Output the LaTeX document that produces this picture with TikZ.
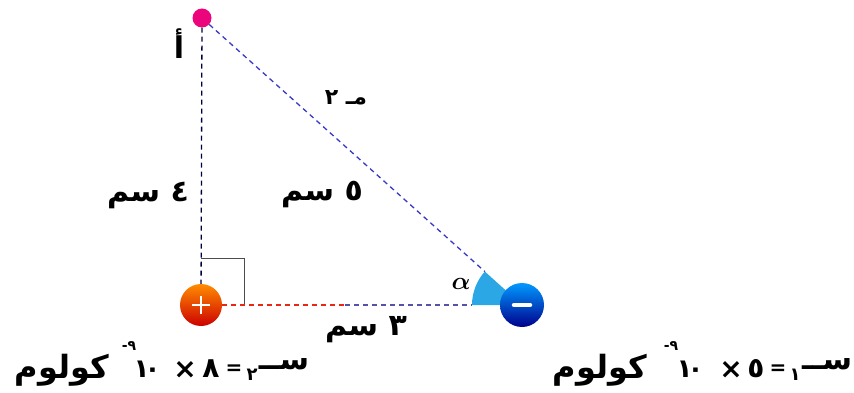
\documentclass[tikz,border=0pt]{standalone}
\usepackage{amsmath}
\usepackage{fontspec}
\newfontfamily\arabicfont[Script=Arabic]{DejaVu Sans}
\TeXXeTstate=1
\usetikzlibrary{calc}
\begin{document}
\begin{tikzpicture}[x=1pt,y=-1pt,
  lbl/.style={font=\arabicfont\bfseries\fontsize{30}{34}\selectfont, inner sep=0pt, text=black},
  lblb/.style={font=\arabicfont\bfseries\fontsize{32}{36}\selectfont, inner sep=0pt, text=black},
  dig/.style={font=\arabicfont\bfseries\fontsize{28}{32}\selectfont, inner sep=0pt, text=black},
  ten/.style={font=\arabicfont\bfseries\fontsize{26}{30}\selectfont, inner sep=0pt, text=black},
  eq/.style={font=\arabicfont\bfseries\fontsize{20}{24}\selectfont, inner sep=0pt, text=black},
  small/.style={font=\arabicfont\bfseries\fontsize{14}{16}\selectfont, inner sep=0pt, text=black},
  sub/.style={font=\arabicfont\bfseries\fontsize{18}{22}\selectfont, inner sep=0pt, text=black},
  sym/.style={font=\arabicfont\bfseries\fontsize{30}{34}\selectfont, inner sep=0pt, text=black},
  dsh/.style={dash pattern=on 5pt off 4pt, line width=1.3pt},
  poscharge/.style={circle, minimum size=42pt, inner sep=0pt, top color=orange!90!yellow, bottom color=red!80!black},
  negcharge/.style={circle, minimum size=44pt, inner sep=0pt, top color=cyan!60!blue, bottom color=blue!55!black},
  ptA/.style={circle, minimum size=19pt, inner sep=0pt, fill=magenta!85!red}
]
\useasboundingbox (0,0) rectangle (854,393);
% angle sector
\coordinate (qn) at (522,305);
\fill[cyan!85!blue!85] (qn) -- ++(180:50) arc (180:222:50) -- cycle;
\coordinate (ht) at ($(qn)+(222:50)$);
\coordinate (hl) at (472,305);
\coordinate (hm) at (345,305);
% right angle mark
\coordinate (r1) at (201,258);
\coordinate (r2) at (244,258);
\coordinate (r3) at (244,305);
\draw[gray!60!black, line width=0.9pt] (r1) -- (r2) -- (r3);
% points
\node[ptA] (a) at (202,18) {};
\node[poscharge] (q2) at (201,305) {};
\node[negcharge] (q1) at (qn) {};
% dashed lines
\draw[dsh, color=black!75!blue] (a) -- (q2);
\draw[dsh, color=blue!55!gray] (a) -- (ht);
\draw[dsh, color=red!70!brown] (q2) -- (hm);
\draw[dsh, color=blue!35!gray] (hm) -- (hl);
% signs
\draw[white, line width=2.4pt] ($(q2)+(-9,0)$) -- ($(q2)+(9,0)$) ($(q2)+(0,-9)$) -- ($(q2)+(0,9)$);
\draw[white, line width=4.5pt, line cap=round] ($(q1)+(-8,0)$) -- ($(q1)+(8,0)$);
% labels
\node[lbl] (la) at (179,44) {\beginR أ\endR};
\node[font=\arabicfont\bfseries\fontsize{22}{26}\selectfont, inner sep=0pt] (lr) at (346,98) {\beginR مـ ٢\endR};
\node[lbl] (l4) at (148,195) {\beginR ٤ سم\endR};
\node[lbl] (l5) at (322,195) {\beginR ٥ سم\endR};
\node[lbl] (l3) at (366,330) {\beginR ٣ سم\endR};
\node[font=\fontsize{30}{32}\selectfont, inner sep=0pt] (al) at (461,284) {$\boldsymbol{\alpha}$};
% bottom-left charge
\node[lblb] (k2) at (62,370) {\beginR كولوم\endR};
\node[small] (e2) at (129,346) {٩-};
\node[ten] (t2) at (147,369) {١\kern-5pt ٠};
\node[dig] (x2) at (185,370) {×};
\node[dig] (n2) at (211,369) {٨};
\node[eq] (q2e) at (234,370) {=};
\node[sub] (i2) at (252,375) {٢};
\node[sym] (s2) at (284,364) {\beginR ســ\endR};
% bottom-right charge
\node[lblb] (k1) at (600,370) {\beginR كولوم\endR};
\node[small] (e1) at (671,346) {٩-};
\node[ten] (t1) at (690,369) {١\kern-5pt ٠};
\node[dig] (x1) at (731,370) {×};
\node[dig] (n1) at (756,369) {٥};
\node[eq] (q1e) at (778,370) {=};
\node[sub] (i1) at (795,375) {١};
\node[sym] (s1) at (827,364) {\beginR ســ\endR};
\end{tikzpicture}
\end{document}
